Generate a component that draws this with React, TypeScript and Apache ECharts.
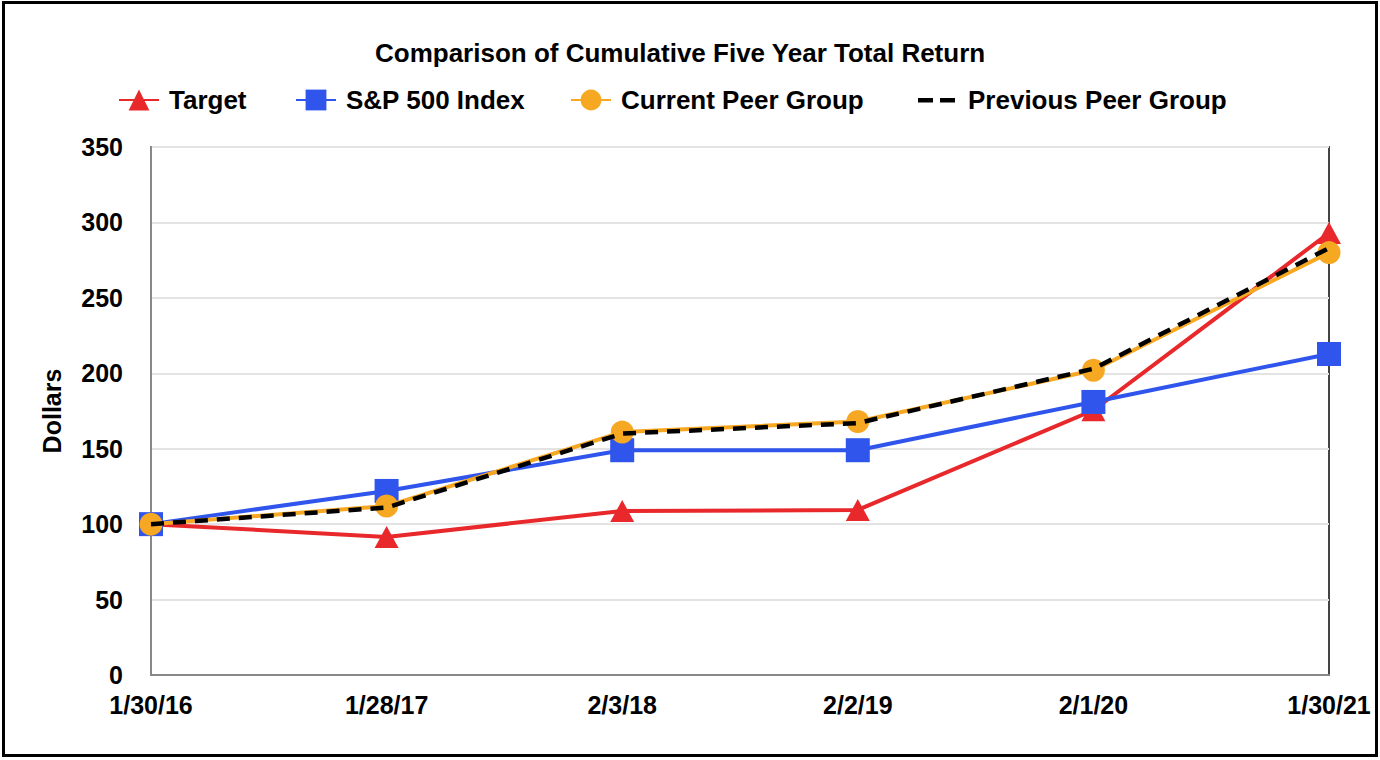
import React, { useEffect, useRef } from "react";
import * as echarts from "echarts";

const categories = ["1/30/16", "1/28/17", "2/3/18", "2/2/19", "2/1/20", "1/30/21"];
const target = [100, 91.5, 108.7, 109.4, 175.5, 293];
const sp500 = [100, 122, 149, 149, 181, 212.8];
const currentPeer = [100, 112, 161, 168, 202, 280];
const previousPeer = [100, 111, 160, 167, 203, 283];
const yTicks = [0, 50, 100, 150, 200, 250, 300, 350];
const seriesNames = ["Target", "S&P 500 Index", "Current Peer Group", "Previous Peer Group"];

const FONT = "'Liberation Sans', Arial, sans-serif";
const DASH_ICON = "path://M0,0h0.01v0.01h-0.01z M0,11h15v4.5h-15z M22,11h15v4.5h-15z M39.99,25.99h0.01v0.01h-0.01z";
const legendLefts = [113, 290, 565, 913];

export default function App() {
  const ref = useRef<HTMLDivElement>(null);
  useEffect(() => {
    const chart = echarts.init(ref.current!, null, { renderer: "svg" });
    const legendStyle = {
      top: 82,
      itemWidth: 40,
      itemHeight: 26,
      textStyle: {
        fontFamily: FONT,
        fontWeight: "bold",
        fontSize: 26,
        color: "#000",
        padding: [0, 0, 0, 5],
      },
    };
    chart.setOption({
      animation: false,
      backgroundColor: "#ffffff",
      title: {
        text: "Comparison of Cumulative Five Year Total Return",
        left: 370,
        top: 35,
        textStyle: { fontFamily: FONT, fontWeight: "bold", fontSize: 26, color: "#000" },
      },
      legend: seriesNames.map((n, i) => ({
        ...legendStyle,
        left: legendLefts[i],
        data: [
          i === 3 ? { name: n, icon: DASH_ICON, itemStyle: { color: "#000" } } : n,
        ],
      })),
      grid: {
        left: 151,
        right: 51,
        top: 147,
        bottom: 85,
        show: true,
        borderColor: "#444",
        borderWidth: 2,
      },
      xAxis: {
        type: "category",
        data: categories,
        boundaryGap: false,
        axisLine: { lineStyle: { color: "#888", width: 2 } },
        axisTick: { show: false },
        axisLabel: {
          fontFamily: FONT,
          fontWeight: "bold",
          fontSize: 25,
          color: "#000",
          margin: 17,
          interval: 0,
        },
      },
      yAxis: {
        type: "value",
        min: yTicks[0],
        max: yTicks[yTicks.length - 1],
        interval: 50,
        name: "Dollars",
        nameLocation: "middle",
        nameGap: 87,
        nameTextStyle: { fontFamily: FONT, fontWeight: "bold", fontSize: 25, color: "#000" },
        axisLine: { show: true, lineStyle: { color: "#888", width: 2 } },
        axisTick: { show: false },
        splitLine: { lineStyle: { color: "#e3e3e3", width: 2 } },
        axisLabel: {
          fontFamily: FONT,
          fontWeight: "bold",
          fontSize: 25,
          color: "#000",
          margin: 28,
        },
      },
      graphic: [
        {
          type: "rect",
          shape: { x: 3.5, y: 2.5, width: 1373, height: 753 },
          style: { fill: "none", stroke: "#000", lineWidth: 3 },
          silent: true,
        },
      ],
      series: [
        {
          name: seriesNames[0],
          type: "line",
          data: target,
          symbol: "triangle",
          symbolSize: [24, 22],
          itemStyle: { color: "#e8282b" },
          lineStyle: { color: "#e8282b", width: 4 },
          z: 3,
        },
        {
          name: seriesNames[1],
          type: "line",
          data: sp500,
          symbol: "rect",
          symbolSize: 24,
          itemStyle: { color: "#2f55ec" },
          lineStyle: { color: "#2f55ec", width: 4 },
          z: 4,
        },
        {
          name: seriesNames[2],
          type: "line",
          data: currentPeer,
          symbol: "circle",
          symbolSize: 23,
          itemStyle: { color: "#f6a823" },
          lineStyle: { color: "#f6a823", width: 4 },
          z: 5,
        },
        {
          name: seriesNames[3],
          type: "line",
          data: previousPeer,
          symbol: "none",
          itemStyle: { color: "#000" },
          lineStyle: { color: "#000", width: 4.5, type: [13, 9] },
          z: 6,
        },
      ],
    });
    return () => chart.dispose();
  }, []);
  return (
    <div
      ref={ref}
      style={{ position: "absolute", left: 0, top: 0, width: 1380, height: 760 }}
    />
  );
}
